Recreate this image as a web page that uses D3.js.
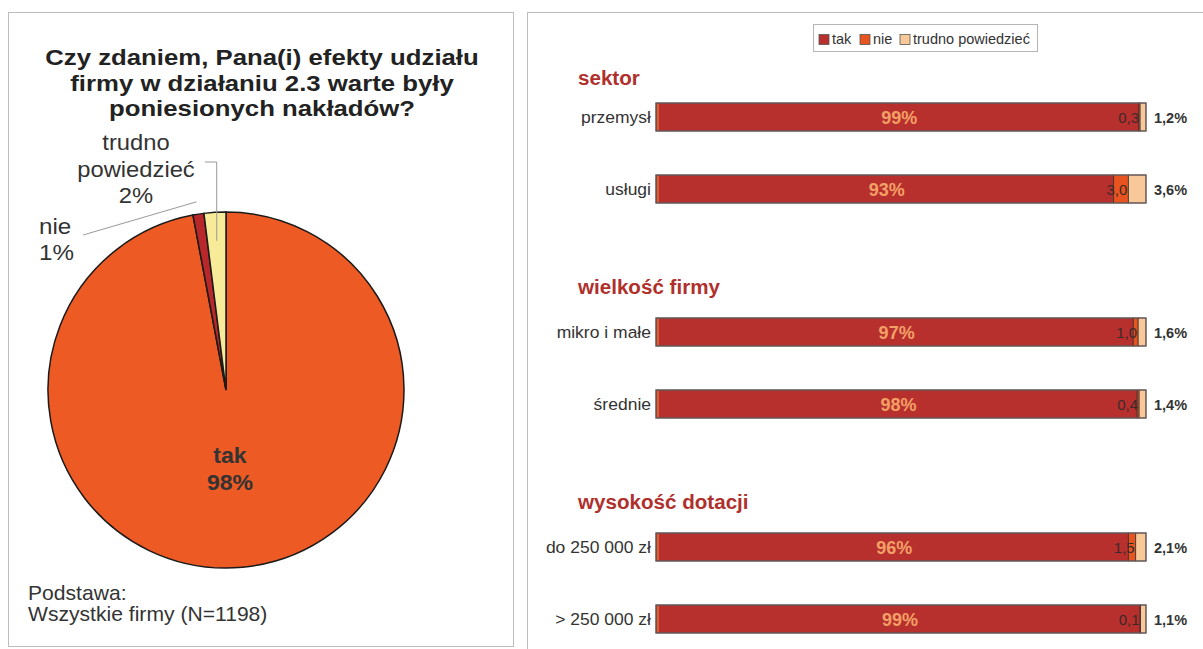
<!DOCTYPE html>
<html><head><meta charset="utf-8">
<script src="https://cdn.jsdelivr.net/npm/d3@7"></script>
<style>
html,body{margin:0;padding:0;background:#fff;}
svg{display:block;font-family:"Liberation Sans",Arial,sans-serif;}
</style></head>
<body>
<svg id="c" width="1203" height="649"></svg>
<script>
// ---------- data ----------
const pieTitle = ["Czy zdaniem, Pana(i) efekty udziału", "firmy w działaniu 2.3 warte były", "poniesionych nakładów?"];
const pieCategories = ["tak", "nie", "trudno powiedzieć"];
const pieValues = [98, 1, 2];
const pieNote = ["Podstawa:", "Wszystkie firmy (N=1198)"];

const seriesNames = ["tak", "nie", "trudno powiedzieć"];
const groupNames = ["sektor", "wielkość firmy", "wysokość dotacji"];
const barCategories = ["przemysł", "usługi", "mikro i małe", "średnie", "do 250 000 zł", "> 250 000 zł"];
const barGroup = [0, 0, 1, 1, 2, 2];
const takValues = [98.5, 93.4, 97.4, 98.2, 96.4, 98.8];
const nieValues = [0.3, 3.0, 1.0, 0.4, 1.5, 0.1];
const trudnoValues = [1.2, 3.6, 1.6, 1.4, 2.1, 1.1];

// ---------- setup ----------
const svg = d3.select("#c");
const fmt = v => d3.format(".1f")(v).replace(".", ",");

// text helper with horizontal stretch
function label(parent, x, y, txt, o) {
  o = o || {};
  return parent.append("text")
    .attr("transform", `translate(${x},${y}) scale(${o.sx || 1},1)`)
    .attr("text-anchor", o.anchor || "start")
    .attr("font-size", o.size || 14)
    .attr("font-weight", o.bold ? "bold" : "normal")
    .attr("fill", o.fill || "#333")
    .text(txt);
}

// panels
svg.append("rect").attr("x", 8.5).attr("y", 12.5).attr("width", 505).attr("height", 634)
  .attr("fill", "#fff").attr("stroke", "#bdbdbd");
svg.append("rect").attr("x", 527.5).attr("y", 12.5).attr("width", 700).attr("height", 660)
  .attr("fill", "#fff").attr("stroke", "#bdbdbd");

// ---------- pie ----------
const cx = 226, cy = 390, R = 178;
const pieColors = d3.scaleOrdinal().domain(pieCategories).range(["#ee5a24", "#b8282a", "#f7ea98"]);
const pie = d3.pie().sort(null).value(d => d.v);
const arcs = pie(pieCategories.map((c, i) => ({c, v: pieValues[i]})));
const arc = d3.arc().innerRadius(0).outerRadius(R);
const g = svg.append("g").attr("transform", `translate(${cx},${cy})`);
g.selectAll("path").data(arcs).join("path")
  .attr("d", arc).attr("fill", d => pieColors(d.data.c))
  .attr("stroke", "#1a1a1a").attr("stroke-width", 1.5);

pieTitle.forEach((t, i) => label(svg, 262, 65 + i * 25.5, t,
  {anchor: "middle", size: 23, bold: true, sx: 1.12, fill: "#222"}));

function pt(a, r) { return [cx + r * Math.sin(a), cy - r * Math.cos(a)]; }
const mid = d => (d.startAngle + d.endAngle) / 2;

// tak label
label(svg, cx + 4, 463, arcs[0].data.c, {anchor: "middle", size: 22, bold: true, sx: 1.05});
label(svg, cx + 4, 490, pieValues[0] + "%", {anchor: "middle", size: 22, bold: true, sx: 1.05});

// trudno label
["trudno", "powiedzieć", pieValues[2] + "%"].forEach((t, i) =>
  label(svg, 136, 150 + i * 26.5, t, {anchor: "middle", size: 22, sx: 1.08}));
const pT = pt(mid(arcs[2]), R * 0.84);
svg.append("polyline").attr("points", `205,162 ${pT[0]},162 ${pT[0]},${pT[1]}`)
  .attr("fill", "none").attr("stroke", "#999").attr("stroke-width", 1);

// nie label
label(svg, 39, 234, "nie", {size: 22, sx: 1.1});
label(svg, 39, 260, pieValues[1] + "%", {size: 22, sx: 1.1});
const pN = pt(mid(arcs[1]), R * 1.07);
svg.append("line").attr("x1", 83).attr("y1", 235).attr("x2", pN[0]).attr("y2", pN[1])
  .attr("stroke", "#999").attr("stroke-width", 1);

// note
pieNote.forEach((t, i) => label(svg, 28, 600 + i * 21, t, {size: 20.5, sx: 1.03}));

// ---------- bars ----------
const barColors = d3.scaleOrdinal().domain(seriesNames).range(["#b8302d", "#e8541f", "#f8c899"]);
const x = d3.scaleLinear().domain([0, 100]).range([656, 1146]);
const yc = i => 117 + i * 72 + barGroup[i] * 71;
const bh = 28;

const rows = barCategories.map((c, i) => ({c, i, vals: [takValues[i], nieValues[i], trudnoValues[i]]}));
const stack = d3.stack().keys([0, 1, 2]).value((d, k) => d.vals[k]);
const layers = stack(rows);

const bars = svg.append("g");
layers.forEach((layer, k) => {
  bars.selectAll(null).data(layer).join("rect")
    .attr("x", d => x(d[0])).attr("width", d => x(d[1]) - x(d[0]))
    .attr("y", d => yc(d.data.i) - bh / 2).attr("height", bh)
    .attr("fill", barColors(seriesNames[k]))
    .attr("stroke", "#3a3030").attr("stroke-width", 0.8);
});
rows.forEach(r => {
  bars.append("rect").attr("x", x(0)).attr("y", yc(r.i) - bh / 2)
    .attr("width", x(d3.sum(r.vals)) - x(0)).attr("height", bh)
    .attr("fill", "none").attr("stroke", "#6e6262").attr("stroke-width", 1.2);
  bars.append("line").attr("x1", x(0) + 2).attr("x2", x(0) + 2)
    .attr("y1", yc(r.i) - bh / 2 + 1).attr("y2", yc(r.i) + bh / 2 - 1)
    .attr("stroke", "#ee6a2a").attr("stroke-width", 1.5);
});

// category labels
rows.forEach(r => label(svg, 651, yc(r.i) + 6, r.c, {anchor: "end", size: 17, sx: 1.03}));

// group headers
groupNames.forEach((gname, gi) => {
  const first = barGroup.indexOf(gi);
  label(svg, 578, yc(first) - (gi ? 38 : 32), gname,
    {size: 20, bold: true, fill: "#b0302c", sx: 1.03});
});

// tak labels
layers[0].forEach(d => label(svg, (x(d[0]) + x(d[1])) / 2 + 2, yc(d.data.i) + 7,
  Math.round(d.data.vals[0]) + "%", {anchor: "middle", size: 18, bold: true, fill: "#f3a067"}));

// nie labels
layers[1].forEach(d => label(svg, x(d[1]) - 1, yc(d.data.i) + 5.5,
  fmt(d.data.vals[1]), {anchor: "end", size: 15, fill: "#3a2a2a"}));

// trudno labels
layers[2].forEach(d => label(svg, x(d[1]) + 8, yc(d.data.i) + 5.5,
  fmt(d.data.vals[2]) + "%", {size: 14.5, bold: true}));

// legend
const lg = svg.append("g");
lg.append("rect").attr("x", 813.5).attr("y", 24.5).attr("width", 224).attr("height", 27)
  .attr("fill", "#fff").attr("stroke", "#b5b5b5");
const legX = [819, 860, 900];
seriesNames.forEach((s, k) => {
  lg.append("rect").attr("x", legX[k]).attr("y", 34.5).attr("width", 10).attr("height", 10)
    .attr("fill", barColors(s)).attr("stroke", "#555").attr("stroke-width", 0.8);
  label(lg, legX[k] + 13, 44, s, {size: 14.5});
});
</script>
</body></html>
